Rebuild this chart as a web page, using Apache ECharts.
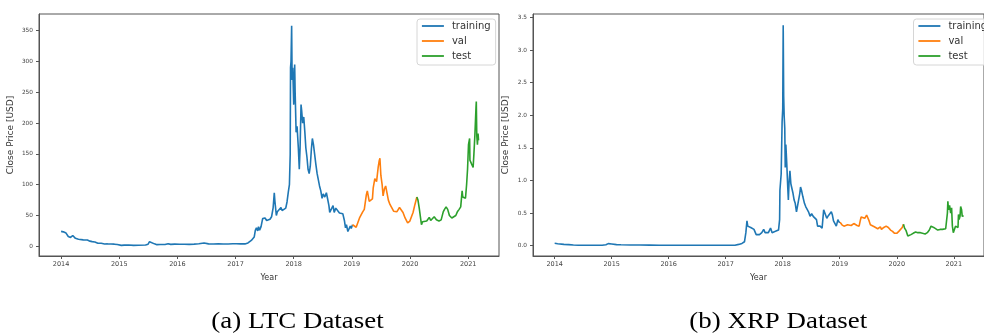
<!DOCTYPE html>
<html>
<head>
<meta charset="utf-8">
<script src="https://cdn.jsdelivr.net/npm/echarts@6/dist/echarts.min.js"></script>
<style>
html,body{margin:0;padding:0;background:#fff;}
#chart{width:984px;height:336px;}
</style>
</head>
<body>
<div id="chart"></div>
<script>
// ---------- DATA ----------
const seriesNames = ['training', 'val', 'test'];
const seriesColors = ['#1f77b4', '#ff7f0e', '#2ca02c'];
const yearTicks = [2014, 2015, 2016, 2017, 2018, 2019, 2020, 2021];
const ltcTicks = [0, 50, 100, 150, 200, 250, 300, 350];
const xrpTicks = [0, 0.5, 1.0, 1.5, 2.0, 2.5, 3.0, 3.5];
const captions = ['(a) LTC Dataset', '(b) XRP Dataset'];

const ltcTraining = [
['2014-01-01',24.3],['2014-01-10',27],['2014-01-15',23.5],['2014-02-01',21.5],['2014-02-15',16],['2014-03-01',14.5],
['2014-03-15',17.5],['2014-04-01',13],['2014-04-10',10.5],['2014-04-20',11.5],['2014-05-01',10.8],['2014-05-20',10.5],
['2014-06-01',10.8],['2014-06-15',10.2],['2014-07-01',8.4],['2014-07-15',7.6],['2014-08-01',7.1],['2014-08-20',5.0],
['2014-09-10',4.9],['2014-10-01',3.8],['2014-10-20',3.9],['2014-11-10',3.7],['2014-12-01',3.5],['2014-12-20',2.9],
['2015-01-14',1.5],['2015-02-01',2.0],['2015-03-01',2.1],['2015-04-01',1.6],['2015-05-01',1.7],['2015-06-15',2.1],
['2015-07-01',3.5],['2015-07-10',7.5],['2015-07-20',4.5],['2015-08-10',4.0],['2015-08-25',2.7],['2015-09-15',2.9],
['2015-10-15',3.0],['2015-11-04',4.3],['2015-11-20',3.2],['2015-12-15',3.6],['2016-01-15',3.3],['2016-02-15',3.4],
['2016-03-15',3.2],['2016-04-15',3.6],['2016-05-15',4.2],['2016-06-17',5.5],['2016-06-25',4.8],['2016-07-15',4.0],
['2016-08-15',3.7],['2016-09-15',3.9],['2016-10-15',3.8],['2016-11-15',3.8],['2016-12-15',4.2],['2017-01-05',4.1],
['2017-02-01',4.0],['2017-03-01',3.9],['2017-03-20',5.5],['2017-03-31',7.5],['2017-04-10',9.5],['2017-04-20',12],
['2017-04-28',15],['2017-05-05',26],['2017-05-12',30],['2017-05-20',25],['2017-05-25',32],['2017-06-01',26],
['2017-06-10',32],['2017-06-20',45],['2017-06-25',42],['2017-07-05',46],['2017-07-15',42],['2017-07-25',43],
['2017-08-05',44],['2017-08-15',48],['2017-08-25',63],['2017-09-01',87],['2017-09-05',73],['2017-09-14',50],
['2017-09-20',56],['2017-10-01',55],['2017-10-13',63],['2017-10-20',58],['2017-11-01',55],['2017-11-12',62],
['2017-11-20',72],['2017-11-28',88],['2017-12-05',100],['2017-12-10',150],['2017-12-12',290],['2017-12-15',300],
['2017-12-19',358],['2017-12-22',270],['2017-12-26',290],['2018-01-01',230],['2018-01-07',295],['2018-01-10',250],
['2018-01-16',185],['2018-01-22',195],['2018-01-30',160],['2018-02-05',125],['2018-02-10',160],['2018-02-16',230],
['2018-02-20',220],['2018-02-26',200],['2018-03-05',210],['2018-03-12',185],['2018-03-18',160],['2018-03-25',145],
['2018-04-01',125],['2018-04-08',118],['2018-04-15',130],['2018-04-22',158],['2018-04-28',175],['2018-05-05',165],
['2018-05-12',150],['2018-05-20',133],['2018-05-28',118],['2018-06-05',120],['2018-06-12',98],['2018-06-20',90],
['2018-06-28',78],['2018-07-05',85],['2018-07-15',80],['2018-07-25',87],['2018-08-01',78],['2018-08-10',66],
['2018-08-15',55],['2018-08-25',57],['2018-09-05',66],['2018-09-12',55],['2018-09-22',62],['2018-10-01',61],
['2018-10-15',54],['2018-10-25',52],['2018-11-05',53],['2018-11-15',42],['2018-11-22',30],['2018-11-28',35],
['2018-12-07',24],['2018-12-15',24],['2018-12-22',33],['2018-12-28',29],['2019-01-05',35]
];
const ltcVal = [
['2019-01-05',35],['2019-01-15',33],['2019-01-28',31],['2019-02-08',34],['2019-02-18',46],['2019-02-25',44],
['2019-03-10',56],['2019-03-20',60],['2019-04-02',84],['2019-04-08',90],['2019-04-20',73],['2019-04-28',70],
['2019-05-10',77],['2019-05-15',95],['2019-05-25',110],['2019-06-05',105],['2019-06-15',128],['2019-06-21',138],
['2019-06-26',143],['2019-07-02',115],['2019-07-10',100],['2019-07-16',82],['2019-07-24',93],['2019-08-01',98],
['2019-08-10',86],['2019-08-18',75],['2019-08-28',68],['2019-09-08',70],['2019-09-20',57],['2019-10-01',54],
['2019-10-10',56],['2019-10-27',63],['2019-11-05',60],['2019-11-18',55],['2019-12-01',46],['2019-12-17',38],
['2019-12-31',41],['2020-01-10',48],['2020-01-20',55],['2020-02-01',68],['2020-02-13',80]
];
const ltcTest = [
['2020-02-13',80],['2020-02-20',75],['2020-02-28',62],['2020-03-07',60],['2020-03-13',35],['2020-03-20',40],
['2020-04-01',39],['2020-04-15',41],['2020-05-01',47],['2020-05-10',42],['2020-05-20',45],['2020-06-01',48],
['2020-06-15',43],['2020-07-01',41],['2020-07-15',43],['2020-07-28',56],['2020-08-05',60],['2020-08-15',64],
['2020-08-25',60],['2020-09-05',50],['2020-09-20',46],['2020-10-01',47],['2020-10-15',50],['2020-10-25',56],
['2020-11-05',60],['2020-11-15',64],['2020-11-24',90],['2020-11-28',80],['2020-12-05',82],['2020-12-15',78],
['2020-12-22',100],['2020-12-28',125],['2021-01-03',165],['2021-01-10',175],['2021-01-12',140],['2021-01-20',140],
['2021-01-25',132],['2021-02-01',128],['2021-02-06',150],['2021-02-12',180],['2021-02-19',225],['2021-02-21',235],
['2021-02-24',180],['2021-02-28',165],['2021-03-04',183],['2021-03-07',172]
];

const xrpTraining = [
['2014-01-01',0.037],['2014-01-20',0.030],['2014-02-01',0.027],['2014-03-01',0.020],['2014-04-01',0.016],['2014-05-01',0.010],['2014-06-01',0.007],
['2014-07-01',0.008],['2014-08-01',0.006],['2014-09-01',0.007],['2014-10-01',0.006],['2014-11-01',0.006],['2014-11-25',0.014],
['2014-12-10',0.032],['2014-12-20',0.028],['2015-01-01',0.026],['2015-02-01',0.017],['2015-03-01',0.014],['2015-05-01',0.010],
['2015-07-01',0.011],['2015-09-01',0.009],['2015-11-01',0.007],['2016-01-01',0.006],['2016-03-01',0.008],['2016-05-01',0.006],
['2016-07-01',0.006],['2016-09-01',0.008],['2016-11-01',0.008],['2017-01-01',0.006],['2017-03-01',0.008],['2017-03-25',0.02],
['2017-04-01',0.03],['2017-04-15',0.035],['2017-05-01',0.06],['2017-05-10',0.20],['2017-05-17',0.38],['2017-05-22',0.30],
['2017-06-01',0.27],['2017-06-10',0.28],['2017-06-20',0.27],['2017-07-01',0.25],['2017-07-15',0.17],['2017-07-25',0.18],
['2017-08-05',0.17],['2017-08-20',0.20],['2017-09-01',0.25],['2017-09-10',0.20],['2017-09-20',0.19],['2017-10-01',0.20],
['2017-10-10',0.23],['2017-10-15',0.27],['2017-10-25',0.20],['2017-11-05',0.20],['2017-11-15',0.22],['2017-11-25',0.25],
['2017-12-05',0.24],['2017-12-12',0.40],['2017-12-14',0.85],['2017-12-22',1.10],['2017-12-28',1.90],['2018-01-01',2.10],
['2018-01-04',3.38],['2018-01-07',2.30],['2018-01-10',2.00],['2018-01-14',1.80],['2018-01-17',1.20],['2018-01-21',1.55],
['2018-01-27',1.25],['2018-02-02',0.90],['2018-02-06',0.70],['2018-02-10',0.95],['2018-02-16',1.15],['2018-02-22',0.95],
['2018-03-01',0.92],['2018-03-08',0.80],['2018-03-15',0.70],['2018-03-22',0.65],['2018-03-30',0.52],['2018-04-10',0.50],
['2018-04-20',0.80],['2018-04-25',0.90],['2018-05-01',0.85],['2018-05-10',0.75],['2018-05-20',0.65],['2018-05-28',0.60],
['2018-06-08',0.60],['2018-06-15',0.52],['2018-06-25',0.45],['2018-07-05',0.49],['2018-07-15',0.45],['2018-07-25',0.45],
['2018-08-05',0.40],['2018-08-12',0.30],['2018-08-20',0.33],['2018-08-28',0.30],['2018-09-10',0.27],['2018-09-20',0.55],
['2018-09-25',0.57],['2018-10-01',0.55],['2018-10-10',0.42],['2018-10-20',0.46],['2018-11-01',0.46],['2018-11-08',0.52],
['2018-11-15',0.47],['2018-11-22',0.38],['2018-12-01',0.37],['2018-12-10',0.30],['2018-12-20',0.40],['2018-12-28',0.36],
['2019-01-03',0.36]
];
const xrpVal = [
['2019-01-03',0.36],['2019-01-15',0.32],['2019-01-28',0.30],['2019-02-08',0.29],['2019-02-20',0.32],['2019-03-01',0.31],
['2019-03-15',0.31],['2019-04-01',0.34],['2019-04-10',0.33],['2019-04-22',0.31],['2019-05-05',0.30],['2019-05-12',0.38],
['2019-05-18',0.44],['2019-05-28',0.41],['2019-06-10',0.42],['2019-06-22',0.47],['2019-06-28',0.45],['2019-07-08',0.38],
['2019-07-16',0.32],['2019-07-28',0.31],['2019-08-10',0.29],['2019-08-20',0.27],['2019-09-01',0.26],['2019-09-18',0.29],
['2019-09-25',0.25],['2019-10-10',0.28],['2019-10-25',0.30],['2019-11-08',0.28],['2019-11-22',0.24],['2019-12-05',0.22],
['2019-12-18',0.19],['2020-01-01',0.19],['2020-01-14',0.22],['2020-01-25',0.23],['2020-02-05',0.28],['2020-02-13',0.33]
];
const xrpTest = [
['2020-02-13',0.33],['2020-02-20',0.27],['2020-03-01',0.23],['2020-03-12',0.15],['2020-03-20',0.16],['2020-04-01',0.17],
['2020-04-15',0.19],['2020-05-01',0.21],['2020-05-15',0.20],['2020-06-01',0.20],['2020-06-15',0.19],['2020-07-01',0.18],
['2020-07-15',0.20],['2020-07-28',0.24],['2020-08-08',0.30],['2020-08-15',0.30],['2020-08-25',0.28],['2020-09-05',0.25],
['2020-09-20',0.24],['2020-10-05',0.25],['2020-10-20',0.25],['2020-11-01',0.24],['2020-11-10',0.26],['2020-11-21',0.50],
['2020-11-24',0.68],['2020-11-28',0.55],['2020-12-05',0.62],['2020-12-12',0.50],['2020-12-18',0.58],['2020-12-23',0.30],
['2020-12-29',0.20],['2021-01-05',0.25],['2021-01-12',0.30],['2021-01-20',0.27],['2021-01-28',0.28],['2021-01-31',0.48],
['2021-02-04',0.40],['2021-02-10',0.45],['2021-02-14',0.60],['2021-02-20',0.55],['2021-02-24',0.45],['2021-03-01',0.43],
['2021-03-05',0.46]
];

// ---------- BUILD ----------
function decYear(s) {
  const p = s.split('-').map(Number);
  const t = Date.UTC(p[0], p[1] - 1, p[2]);
  const a = Date.UTC(p[0], 0, 1), b = Date.UTC(p[0] + 1, 0, 1);
  return p[0] + (t - a) / (b - a);
}
const conv = arr => arr.map(d => [decYear(d[0]), d[1]]);

const FONT = 'DejaVu Sans';
const X_MIN = 2013.62, X_MAX = 2021.53;
const grids = [
  {left: 39, top: 14, width: 460, height: 242},
  {left: 533, top: 14, width: 462.5, height: 242}
];
const yRanges = [[-15.7, 377.1], [-0.158, 3.554]];
const yTickSets = [ltcTicks, xrpTicks];
const yFmt = [v => String(v), v => v.toFixed(1)];
const dataSets = [[ltcTraining, ltcVal, ltcTest], [xrpTraining, xrpVal, xrpTest]];

const option = {
  animation: false,
  backgroundColor: '#fff',
  grid: grids.map(g => Object.assign({show: true, borderColor: '#555', borderWidth: 1, backgroundColor: 'transparent'}, g)),
  xAxis: [0, 1].map(i => ({
    type: 'value', gridIndex: i, min: X_MIN, max: X_MAX,
    name: 'Year', nameLocation: 'middle', nameGap: 18,
    nameTextStyle: {fontFamily: FONT, fontSize: 8, color: '#333'},
    axisLine: {show: true, onZero: false, lineStyle: {color: '#555', width: 1}},
    axisTick: {show: true, length: 3, lineStyle: {color: '#555'}, customValues: yearTicks},
    axisLabel: {fontFamily: FONT, fontSize: 6.5, color: '#444', margin: 5, customValues: yearTicks, formatter: v => String(Math.round(v))},
    splitLine: {show: false}
  })),
  yAxis: [0, 1].map(i => ({
    type: 'value', gridIndex: i, min: yRanges[i][0], max: yRanges[i][1],
    name: 'Close Price [USD]', nameLocation: 'middle', nameGap: i === 0 ? 24 : 23, nameRotate: 90,
    nameTextStyle: {fontFamily: FONT, fontSize: 9, color: '#333'},
    axisLine: {show: true, onZero: false, lineStyle: {color: '#555', width: 1}},
    axisTick: {show: true, length: 3, lineStyle: {color: '#555'}, customValues: yTickSets[i]},
    axisLabel: {fontFamily: FONT, fontSize: 5.8, color: '#444', margin: 6, customValues: yTickSets[i], formatter: yFmt[i]},
    splitLine: {show: false}
  })),
  legend: [0, 1].map(i => ({
    left: i === 0 ? 417 : 913.5, top: 19,
    orient: 'vertical', selectedMode: false,
    data: seriesNames,
    itemWidth: 22, itemHeight: 10, itemGap: 5,
    padding: [2, 5, 4, 4],
    borderColor: '#d6d6d6', borderWidth: 1, borderRadius: 3,
    backgroundColor: 'rgba(255,255,255,0.8)',
    itemStyle: {opacity: 0},
    lineStyle: {width: 1.8},
    textStyle: {fontFamily: FONT, fontSize: 10, color: '#333', padding: [0, 0, 0, 3]}
  })),
  series: [],
  graphic: captions.map((c, i) => ({
    type: 'text', x: i === 0 ? 297.5 : 778.3, y: 321.5, scaleX: 1.17,
    style: {text: c, x: 0, y: 0, textAlign: 'center', textVerticalAlign: 'middle',
            fontFamily: 'Liberation Serif', fontSize: 23, fill: '#000'}
  }))
};

dataSets.forEach((sets, gi) => {
  sets.forEach((arr, si) => {
    option.series.push({
      type: 'line', name: seriesNames[si], xAxisIndex: gi, yAxisIndex: gi,
      data: conv(arr), showSymbol: false, symbol: 'none', clip: true,
      color: seriesColors[si],
      lineStyle: {width: 1.6, color: seriesColors[si]}
    });
  });
});

const chart = echarts.init(document.getElementById('chart'), null, {renderer: 'canvas'});
chart.setOption(option);
</script>
</body>
</html>
